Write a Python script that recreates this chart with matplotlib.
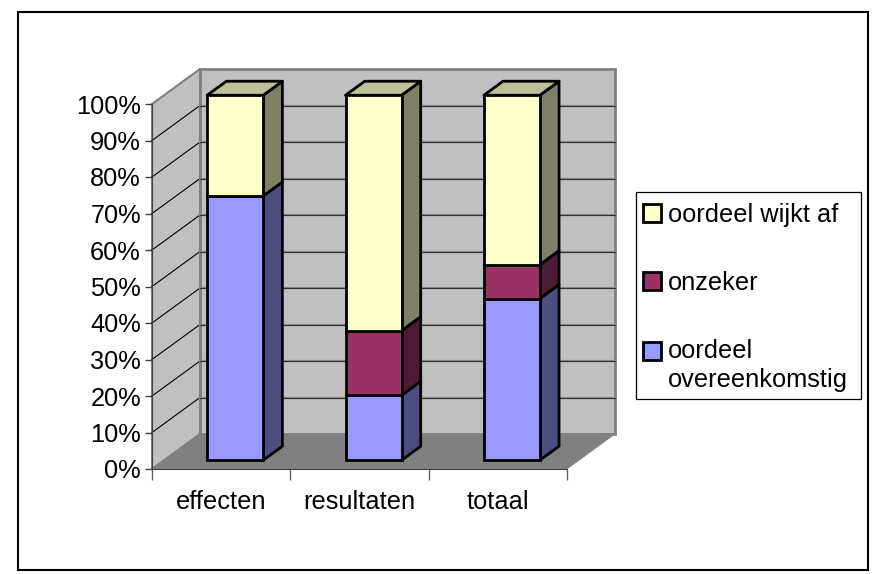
import matplotlib
matplotlib.use('Agg')
import matplotlib.pyplot as plt
import numpy as np
from matplotlib.legend_handler import HandlerPatch
from matplotlib.patches import Patch, Polygon, Rectangle

plt.rcParams['font.family'] = ['Liberation Sans', 'DejaVu Sans']
plt.rcParams['font.size'] = 18.3

categories = ['effecten', 'resultaten', 'totaal']
overeenkomstig = [72.4, 17.8, 44.3]
onzeker = [0.0, 17.7, 9.3]
wijkt_af = [27.6, 64.5, 46.4]
yticks = np.arange(0, 101, 10)

# series with front and side colours, bottom to top
series = [
    ('oordeel\novereenkomstig', overeenkomstig, '#9999FF', '#4D4D80'),
    ('onzeker', onzeker, '#993366', '#4D1A33'),
    ('oordeel wijkt af', wijkt_af, '#FFFFCC', '#808066'),
]
top_colour = '#BFBF99'
edge_w = 2.0

W, H = 872, 574
fig = plt.figure(figsize=(W / 100, H / 100), dpi=100, facecolor='white')
fig.add_artist(Rectangle((18 / W, 1 - 570 / H), 850 / W, 558 / H, transform=fig.transFigure,
                         facecolor='white', edgecolor='black', linewidth=1.5, zorder=-1))

# the axes is the front plane of the 3d box
ax = fig.add_axes([152 / W, 1 - 469 / H, 415 / W, 365 / H])
ax.patch.set_visible(False)
ax.set_xlim(0, 3)
ax.set_ylim(0, 100)

# depth of the box in data units
dx = 48 / 415 * 3
dy = 35 / 3.65

ax.add_patch(Polygon([(0, 0), (dx, dy), (dx, 100 + dy), (0, 100)], closed=True, clip_on=False,
                     facecolor='#C0C0C0', edgecolor='#808080', linewidth=1.5, zorder=1))
ax.add_patch(Rectangle((dx, dy), 3, 100, clip_on=False,
                       facecolor='#C0C0C0', edgecolor='#808080', linewidth=2, zorder=1))
ax.add_patch(Polygon([(0, 0), (3, 0), (3 + dx, dy), (dx, dy)], closed=True, clip_on=False,
                     facecolor='#808080', edgecolor='#808080', linewidth=0.5, zorder=2))

for t in yticks[1:-1]:
    ax.plot([0, dx], [t, t + dy], color='black', linewidth=0.8, clip_on=False, zorder=2)
    ax.plot([dx, 3 + dx], [t + dy, t + dy], color='#8C8C8C', linewidth=1.6, clip_on=False, zorder=2)
    ax.plot([dx, 3 + dx], [t + dy, t + dy], color='#303030', linewidth=0.8, clip_on=False, zorder=2)

# bars stand a bit behind the front plane and are a bit less deep than the box
x = np.arange(len(categories)) + 0.5
bar_w = 56 / 415 * 3
ox = 14 / 415 * 3
oy = 0.25 * dy
bx = 0.4 * dx
by = 0.4 * dy

bottom = np.zeros(len(categories))
for name, values, front, side in series:
    values = np.array(values)
    ax.bar(x + ox, values, bar_w, bottom=bottom + oy, color=front, edgecolor='black',
           linewidth=edge_w, clip_on=False, zorder=5)
    for i in range(len(categories)):
        if values[i] == 0:
            continue
        r = x[i] + ox + bar_w / 2
        y0 = bottom[i] + oy
        y1 = y0 + values[i]
        ax.add_patch(Polygon([(r, y0), (r + bx, y0 + by), (r + bx, y1 + by), (r, y1)], closed=True,
                             clip_on=False, facecolor=side, edgecolor='black', linewidth=edge_w,
                             joinstyle='round', zorder=4))
    bottom = bottom + values

for i in range(len(categories)):
    l = x[i] + ox - bar_w / 2
    r = x[i] + ox + bar_w / 2
    y1 = bottom[i] + oy
    ax.add_patch(Polygon([(l, y1), (r, y1), (r + bx, y1 + by), (l + bx, y1 + by)], closed=True,
                         clip_on=False, facecolor=top_colour, edgecolor='black', linewidth=edge_w,
                         joinstyle='round', zorder=4))

ax.spines['top'].set_visible(False)
ax.spines['right'].set_visible(False)
ax.spines['left'].set_color('#404040')
ax.spines['bottom'].set_color('#404040')
ax.spines['left'].set_zorder(3)
ax.spines['bottom'].set_zorder(3)

ax.set_yticks(yticks)
ax.set_yticklabels(['%d%%' % t for t in yticks])
ax.tick_params(axis='y', length=5, width=1, color='#404040', pad=3)
ax.set_xticks([0, 1, 2, 3])
ax.set_xticklabels([])
ax.set_xticks(x, minor=True)
ax.set_xticklabels(categories, minor=True)
ax.tick_params(axis='x', which='major', length=8, width=1, color='#606060')
ax.tick_params(axis='x', which='minor', length=0, pad=15)


# the marker of the two line entry sits next to its first line
def first_line_patch(legend, orig_handle, xdescent, ydescent, width, height, fontsize):
    return Rectangle((-xdescent, -ydescent + 11), width, height)


# legend frame drawn apart so its height can follow the reference
fig.add_artist(Rectangle((636 / W, 1 - 399 / H), 225 / W, 207 / H, transform=fig.transFigure,
                         facecolor='white', edgecolor='black', linewidth=0.9, zorder=1))

handles = [Patch(facecolor=s[2], edgecolor='black', linewidth=edge_w) for s in series[::-1]]
labels = [s[0] for s in series[::-1]]
leg = fig.legend(handles, labels, loc='upper left', bbox_to_anchor=(633 / W, 1 - 193 / H),
                 frameon=False, borderaxespad=0, borderpad=0.4, handlelength=0.72,
                 handleheight=0.72, handletextpad=0.26, labelspacing=1.72, fontsize=18.3,
                 handler_map={handles[2]: HandlerPatch(patch_func=first_line_patch)})
for txt in leg.get_texts():
    txt.set_linespacing(1.29)

fig.savefig('out.png', dpi=100)
